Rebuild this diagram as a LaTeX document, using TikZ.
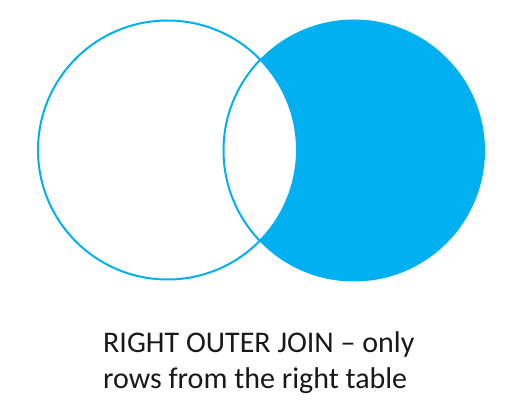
\documentclass[tikz,border=0pt]{standalone}
\usepackage{fontspec}
\setmainfont{Carlito}
\definecolor{joinblue}{HTML}{00B0F0}
\begin{document}
\begin{tikzpicture}[x=1pt,y=1pt,
  ring/.style={draw=joinblue,line width=2pt},
  caption/.style={anchor=base west,inner sep=0pt,font=\fontsize{30}{36}\selectfont,text=black!90}]
\useasboundingbox (0,0) rectangle (528,407);
\coordinate (L) at (167.5,257);
\coordinate (R) at (354,256.5);
\fill[joinblue] (R) circle (131);
\fill[white] (L) circle (129.5);
\draw[ring] (L) circle (129.5);
\begin{scope}
  \clip (L) circle (129.5);
  \draw[ring] (R) circle (130.5);
\end{scope}
\node[caption] (t1) at (103,54.3) {RIGHT OUTER JOIN – only};
\node[caption] (t2) at (103,18.7) {rows from the right table};
\end{tikzpicture}
\end{document}
